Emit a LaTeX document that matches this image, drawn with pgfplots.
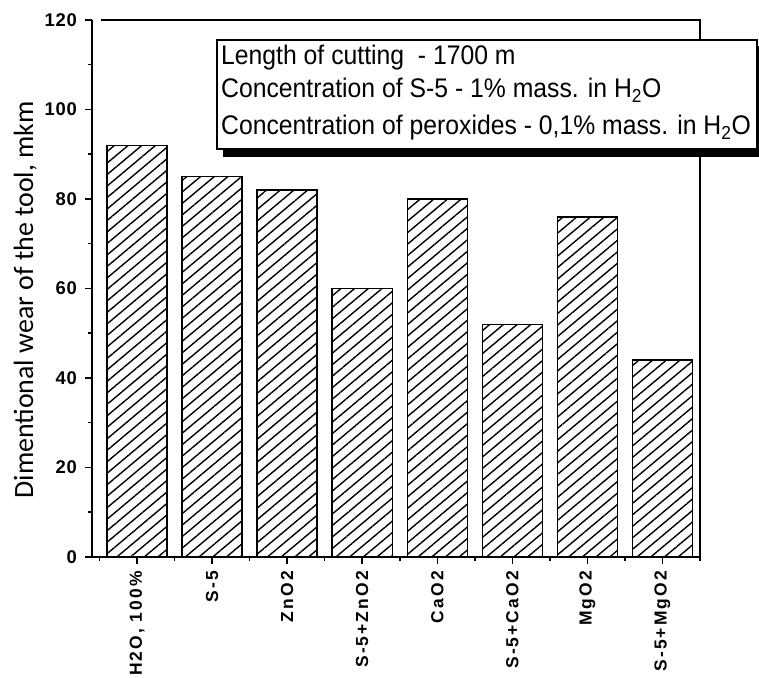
\documentclass[border=0pt]{standalone}
\usepackage{fontspec}
\setmainfont{Liberation Sans}
\newfontfamily\tickfont[LetterSpace=12]{Liberation Sans}
\newfontfamily\ytickfont[LetterSpace=4]{Liberation Sans}
\newfontfamily\boxfont[FakeStretch=0.92]{Liberation Sans}
\newfontfamily\labfont{Carlito}
\usepackage{pgfplots}
\pgfplotsset{compat=1.18}
\usetikzlibrary{patterns.meta}
\begin{document}
\begin{tikzpicture}
\useasboundingbox (0,0) rectangle (759bp,678bp);
\begin{axis}[
  at={(92bp,121bp)}, anchor=south west,
  scale only axis, width=608bp, height=537bp,
  xmin=-0.6, xmax=7.5, ymin=0, ymax=120,
  axis x line*=bottom, axis y line*=left,
  axis line style={-, line width=1.8bp},
  tick align=outside,
  tick style={black, line width=1.5bp},
  major tick length=7bp, minor tick length=4bp,
  ytick={0,20,...,120}, minor ytick={10,30,...,110},
  xtick={0,...,7}, minor xtick={-0.5,0.5,...,7.5},
  xticklabels={{H2O, 100\%},S-5,ZnO2,S-5+ZnO2,CaO2,S-5+CaO2,MgO2,S-5+MgO2},
  /pgf/number format/assume math mode=true,
  x tick label style={rotate=90, anchor=east, inner sep=0pt, font=\tickfont\bfseries\fontsize{17.5}{17.5}\selectfont},
  y tick label style={anchor=east, inner sep=0pt, font=\ytickfont\bfseries\fontsize{18.5}{18.5}\selectfont},
  xticklabel shift=7bp, yticklabel shift=8bp,
  ylabel={Dimentional wear of the tool, mkm},
  ylabel style={at={(axis description cs:-0.097,0.479)}, anchor=base, font=\labfont\fontsize{28}{28}\selectfont},
  ybar, bar width=0.8,
  clip=false,
]
\addplot[draw=black, line width=1.4bp, pattern={Lines[angle=40, distance=8.8bp, line width=1.4bp]}]
  coordinates {(0,92) (1,85) (2,82) (3,60) (4,80) (5,52) (6,76) (7,44)};
\draw[line width=1.5bp] (axis cs:-0.48,120) -- (axis cs:7.5,120) -- (axis cs:7.5,0);
\end{axis}
% annotation box with shadow
\fill[black] (223bp,521bp) rectangle (765bp,632bp);
\draw[fill=white, line width=1.2bp] (217bp,529bp) rectangle (757bp,638bp);
\node[anchor=base west, inner sep=0pt, font=\boxfont\fontsize{27}{27}\selectfont] at (221bp,613bp) {Length of cutting\ \ - 1700 m};
\node[anchor=base west, inner sep=0pt, font=\boxfont\fontsize{27}{27}\selectfont] at (221bp,580bp) {Concentration of S-5 - 1\% mass. in H\textsubscript{2}O};
\node[anchor=base west, inner sep=0pt, font=\boxfont\fontsize{27}{27}\selectfont] at (221bp,543bp) {Concentration of peroxides - 0,1\% mass. in H\textsubscript{2}O};
\end{tikzpicture}
\end{document}
